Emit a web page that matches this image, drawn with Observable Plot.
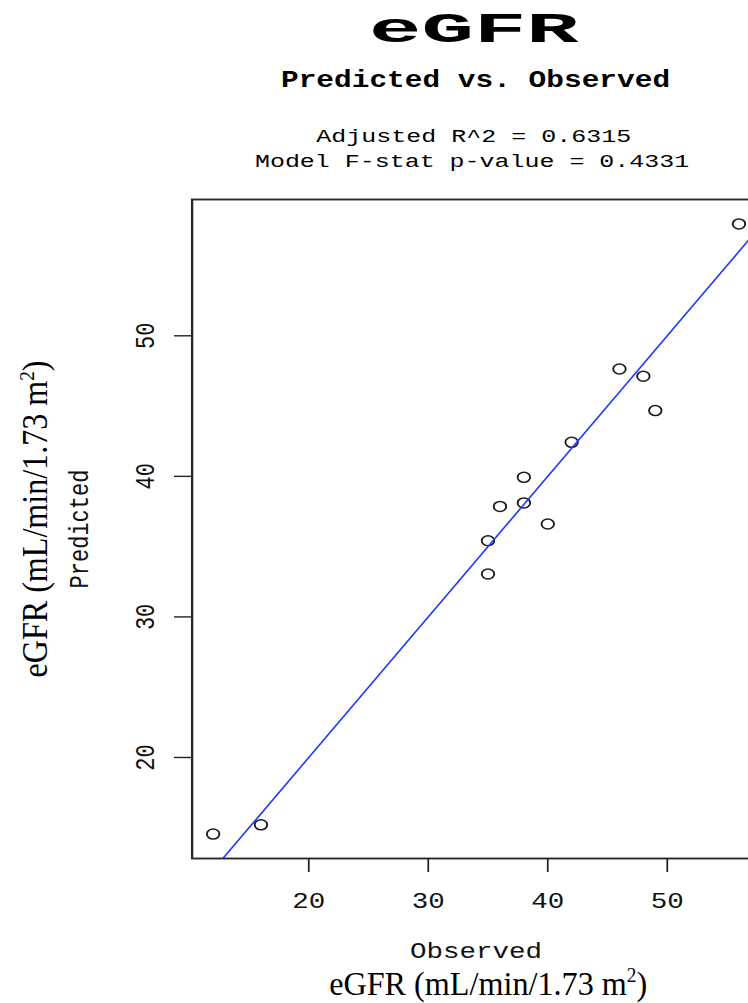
<!DOCTYPE html>
<html>
<head>
<meta charset="utf-8">
<script src="https://cdn.jsdelivr.net/npm/d3@7"></script>
<script src="https://cdn.jsdelivr.net/npm/@observablehq/plot@0.6"></script>
<style>
  html, body { margin: 0; padding: 0; background: #fff; overflow: hidden; }
  #page { position: relative; width: 748px; height: 1003px; overflow: hidden; background: #fff; }
  #chart { position: absolute; left: 0; top: 190px; }
  .lbl { position: absolute; white-space: nowrap; color: #000; margin: 0; padding: 0; }
  .lbl sup { font-size: 0.6em; vertical-align: baseline; position: relative; top: -0.62em; line-height: 0; }
</style>
</head>
<body>
<div id="page"><div id="chart"></div></div>
<script>
// ---------------- data ----------------
const observed  = [12, 16, 35, 35, 36, 38, 38, 40, 42, 46, 48, 49, 56];
const predicted = [14.55, 15.21, 33.05, 35.42, 37.86, 38.11, 39.93, 36.61, 42.42, 47.64, 47.12, 44.68, 57.96];
const xTicks = [20, 30, 40, 50];
const yTicks = [20, 30, 40, 50];
const refLine = [0, 100];               // identity line: Predicted = Observed
const titleText = "eGFR";
const subtitleText = "Predicted vs. Observed";
const statLines = ["Adjusted R^2 = 0.6315", "Model F-stat p-value = 0.4331"];
const xLabel = "Observed";
const yLabel = "Predicted";
const unitHtml = "eGFR (mL/min/1.73 m<sup>2</sup>)";

// ---------------- layout ----------------
const MONO = '"Liberation Mono", "Courier New", monospace';
const SERIF = '"Liberation Serif", "Times New Roman", serif';
const S = 1.25;                 // horizontal stretch of the chart picture
const W = 628, H = 813;
const mL = 153.2, mT = 9, mB = 145, mR = W - 153.2 - 454.3;

const rows = observed.map((o, i) => ({observed: o, predicted: predicted[i]}));
const rPad = ext => { const r = ext[1] - ext[0]; return [ext[0] - 0.04 * r, ext[1] + 0.04 * r]; };
const xDomain = rPad(d3.extent(observed));
const yDomain = rPad(d3.extent(predicted));

const plot = Plot.plot({
  width: W, height: H,
  marginLeft: mL, marginRight: mR, marginTop: mT, marginBottom: mB,
  x: {domain: xDomain},
  y: {domain: yDomain},
  style: {fontFamily: MONO, fontSize: "22px", color: "#000", background: "#fff", overflow: "visible"},
  marks: [
    Plot.axisX({ticks: xTicks, tickSize: 14, tickFormat: () => "", label: null, strokeWidth: 1.4, stroke: "#222"}),
    Plot.axisY({ticks: yTicks, tickSize: 14, tickFormat: () => "", label: null, strokeWidth: 1.4, stroke: "#222"}),
    Plot.text(xTicks, {x: d => d, text: d => String(d), frameAnchor: "bottom", dy: 49.3, lineAnchor: "bottom", fill: "#111"}),
    Plot.text(yTicks, {y: d => d, text: d => String(d), frameAnchor: "left", dx: -30.6, rotate: -90, lineAnchor: "bottom", textAnchor: "middle", fill: "#111"}),
    Plot.text([xLabel], {text: d => d, frameAnchor: "bottom", dy: 99.5, lineAnchor: "bottom", fill: "#111"}),
    Plot.text([yLabel], {text: d => d, frameAnchor: "left", dx: -83.6, rotate: -90, lineAnchor: "bottom", textAnchor: "middle", fill: "#111"}),
    Plot.dot(rows, {x: "observed", y: "predicted", r: 5, stroke: "#1a1a1a", strokeWidth: 1.5, fill: "none"}),
    Plot.line(refLine, {x: d => d, y: d => d, stroke: "#2238ff", strokeWidth: 1.4, clip: true}),
    Plot.frame({stroke: "#2a2a2a", strokeWidth: 1.9})
  ]
});
plot.setAttribute("width", W * S);
plot.setAttribute("preserveAspectRatio", "none");
plot.style.width = (W * S) + "px";
plot.style.height = H + "px";
plot.style.maxWidth = "none";
document.getElementById("chart").appendChild(plot);

// ---------------- titles and unit labels (HTML) ----------------
const page = document.getElementById("page");
const ctx = document.createElement("canvas").getContext("2d");
function metrics(weight, size, family, sample) {
  ctx.font = `${weight} ${size}px ${family}`;
  const m = ctx.measureText(sample);
  const h = ctx.measureText("H");
  return {m, cap: h.actualBoundingBoxAscent, asc: h.fontBoundingBoxAscent, desc: h.fontBoundingBoxDescent};
}
function placeLabel(spec) {
  const el = document.createElement("div");
  el.className = "lbl";
  if (spec.html) el.innerHTML = spec.html; else el.textContent = spec.text;
  const sample = spec.text || el.textContent;
  const ref = metrics(spec.weight, 100, spec.family, sample);
  const fs = spec.cap / (ref.cap / 100);
  const fm = metrics(spec.weight, fs, spec.family, sample);
  const L = Math.round(fs * 0.8);
  el.style.fontFamily = spec.family;
  el.style.fontWeight = spec.weight;
  el.style.fontSize = fs + "px";
  el.style.lineHeight = L + "px";
  page.appendChild(el);
  const w = el.getBoundingClientRect().width;
  let span = w, gc = w / 2;
  if (!spec.html) {
    span = fm.m.actualBoundingBoxLeft + fm.m.actualBoundingBoxRight;
    gc = (fm.m.actualBoundingBoxRight - fm.m.actualBoundingBoxLeft) / 2;
  }
  const k = spec.span / span;
  const A = fm.asc || fs * 0.85, D = fm.desc || fs * 0.25;
  const base = (L - (A + D)) / 2 + A;
  el.style.left = (spec.cx - gc) + "px";
  el.style.top = (spec.by - base) + "px";
  el.style.transformOrigin = `${gc}px ${base}px`;
  el.style.transform = `${spec.rotate ? `rotate(${spec.rotate}deg) ` : ""}scaleX(${k})`;
}
const labelSpecs = [
  {text: titleText,    weight: "bold",   family: MONO, cx: 475.5, by: 41.7,  cap: 29,   span: 205.6},
  {text: subtitleText, weight: "bold",   family: MONO, cx: 474.7, by: 87.3,  cap: 16.3, span: 386},
  {text: statLines[0], weight: "normal", family: MONO, cx: 473.3, by: 141.7, cap: 12.4, span: 313.3},
  {text: statLines[1], weight: "normal", family: MONO, cx: 472.2, by: 167.3, cap: 12.8, span: 432.3},
  {html: unitHtml,     weight: "normal", family: SERIF, cx: 488, by: 995, cap: 22, span: 318},
  {html: unitHtml,     weight: "normal", family: SERIF, cx: 47, by: 518.5, cap: 23, span: 317, rotate: -90}
];
labelSpecs.forEach(placeLabel);
</script>
</body>
</html>
